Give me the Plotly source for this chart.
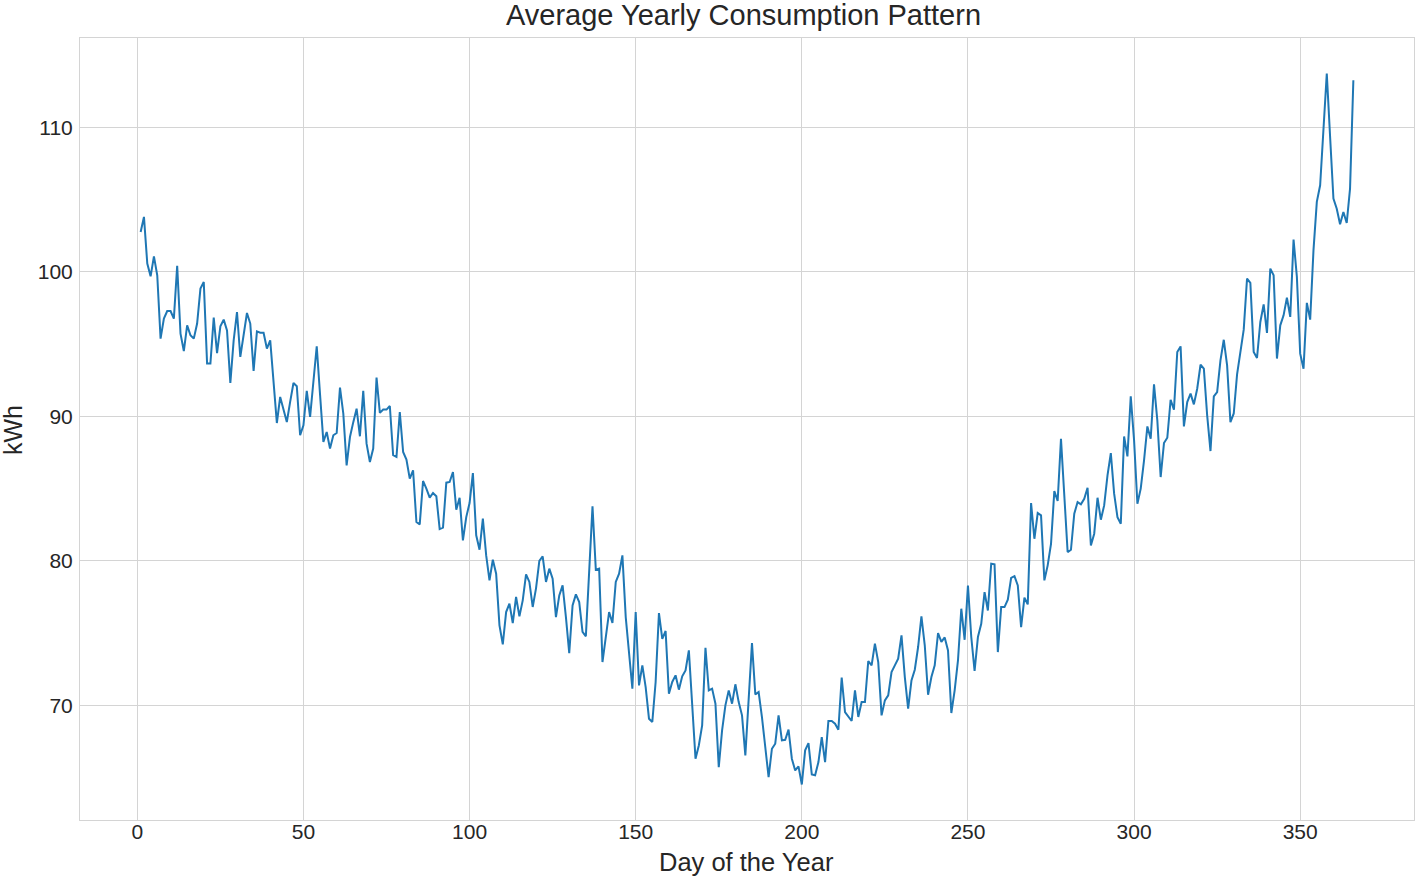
import plotly.graph_objects as go

days = list(range(1, 367))

kwh = [
    102.76, 103.80, 100.57, 99.69, 101.07, 99.76, 95.38, 96.76, 97.29, 97.29,
    96.76, 100.41, 95.72, 94.52, 96.30, 95.61, 95.38, 96.42, 98.84, 99.30,
    93.65, 93.65, 96.83, 94.38, 96.23, 96.69, 95.95, 92.31, 95.26, 97.22,
    94.11, 95.60, 97.15, 96.42, 93.14, 95.88, 95.79, 95.79, 94.69, 95.26,
    92.50, 89.54, 91.34, 90.50, 89.61, 91.00, 92.31, 92.08, 88.69, 89.38,
    91.76, 89.96, 92.40, 94.85, 91.50, 88.23, 88.92, 87.77, 88.69, 88.85,
    91.99, 90.19, 86.61, 88.57, 89.60, 90.53, 88.62, 91.76, 88.11, 86.84,
    87.77, 92.68, 90.24, 90.47, 90.47, 90.72, 87.31, 87.19, 90.30, 87.54,
    87.01, 85.69, 86.27, 82.69, 82.53, 85.53, 85.00, 84.38, 84.70, 84.47,
    82.20, 82.30, 85.41, 85.46, 86.15, 83.54, 84.37, 81.42, 83.03, 84.00,
    86.08, 81.77, 80.77, 82.92, 80.38, 78.65, 80.08, 79.11, 75.54, 74.22,
    76.46, 77.04, 75.70, 77.50, 76.16, 77.27, 79.07, 78.54, 76.81, 78.10,
    80.00, 80.31, 78.54, 79.46, 78.77, 76.11, 77.61, 78.30, 76.11, 73.62,
    76.92, 77.68, 77.15, 75.08, 74.78, 79.11, 83.77, 79.39, 79.46, 73.00,
    74.73, 76.46, 75.70, 78.54, 79.11, 80.38, 76.11, 73.58, 71.15, 76.46,
    71.38, 72.77, 71.27, 69.08, 68.85, 71.62, 76.39, 74.61, 75.15, 70.81,
    71.62, 72.08, 71.09, 72.01, 72.42, 73.81, 70.35, 66.31, 67.23, 68.62,
    73.99, 71.04, 71.16, 70.12, 65.73, 68.27, 70.00, 71.04, 70.12, 71.46,
    70.23, 69.31, 66.54, 70.35, 74.31, 70.76, 70.92, 69.19, 67.23, 65.04,
    67.00, 67.35, 69.31, 67.58, 67.62, 68.32, 66.31, 65.50, 65.78, 64.53,
    66.89, 67.39, 65.22, 65.16, 66.08, 67.81, 66.08, 68.92, 68.92, 68.73,
    68.32, 71.92, 69.54, 69.20, 68.92, 71.04, 69.20, 70.23, 70.23, 73.07,
    72.77, 74.27, 73.00, 69.31, 70.35, 70.70, 72.31, 72.77, 73.23, 74.85,
    71.96, 69.77, 71.73, 72.47, 74.04, 76.16, 74.16, 70.74, 71.96, 72.77,
    75.01, 74.40, 74.70, 73.80, 69.47, 71.04, 73.11, 76.69, 74.54, 78.30,
    74.73, 72.38, 74.73, 75.65, 77.84, 76.57, 79.80, 79.76, 73.69, 76.80,
    76.80, 77.31, 78.83, 78.95, 78.30, 75.42, 77.45, 76.99, 84.00, 81.53,
    83.31, 83.15, 78.65, 79.69, 81.18, 84.83, 84.14, 88.45, 84.07, 80.61,
    80.77, 83.26, 84.07, 83.91, 84.30, 85.06, 81.07, 81.88, 84.37, 82.85,
    83.84, 85.91, 87.46, 84.65, 83.03, 82.57, 88.61, 87.23, 91.38, 88.34,
    83.95, 85.00, 86.96, 89.30, 88.45, 92.21, 89.72, 85.80, 88.15, 88.52,
    91.15, 90.46, 94.45, 94.84, 89.30, 90.99, 91.57, 90.83, 91.91, 93.57,
    93.30, 90.07, 87.60, 91.38, 91.68, 93.87, 95.30, 93.53, 89.60, 90.20,
    92.90, 94.50, 96.00, 99.53, 99.23, 94.46, 94.04, 96.53, 97.75, 95.77,
    100.22, 99.76, 94.00, 96.30, 96.99, 98.22, 96.88, 102.23, 99.65, 94.34,
    93.30, 97.85, 96.69, 101.50, 104.84, 105.99, 110.03, 113.72, 109.33, 105.07,
    104.37, 103.29, 104.14, 103.38, 105.76, 113.26,
]

x_ticks = [0, 50, 100, 150, 200, 250, 300, 350]
y_ticks = [70, 80, 90, 100, 110]

title_text = "Average Yearly Consumption Pattern"
x_title = "Day of the Year"
y_title = "kWh"

FONT = "Liberation Sans, Arial, sans-serif"
TXT = "#262626"
GRID = "#d4d4d4"

W, H = 1416, 878
ML, MR, MT, MB = 80, 2, 38, 58
plot_w = W - ML - MR
plot_h = H - MT - MB

fig = go.Figure()
fig.add_trace(go.Scatter(
    x=days, y=kwh, mode="lines",
    line=dict(color="#1f77b4", width=2),
    showlegend=False,
))

fig.update_layout(
    width=W, height=H,
    margin=dict(l=ML, r=MR, t=MT, b=MB),
    paper_bgcolor="white", plot_bgcolor="white",
    font=dict(family=FONT, color=TXT, size=21),
    title=dict(text=title_text, x=743.5 / W, xanchor="center", xref="container",
               y=1 - 15 / H, yanchor="middle", yref="container",
               font=dict(size=29, family=FONT, color=TXT)),
)

fig.update_xaxes(
    range=[-17.25, 384.25], tickvals=x_ticks,
    showgrid=True, gridcolor=GRID, gridwidth=1,
    zeroline=False, showline=True, linecolor=GRID, linewidth=1, mirror=True,
    ticks="", ticklabelstandoff=-7,
    tickfont=dict(size=21, family=FONT, color=TXT),
    automargin=False,
)
fig.update_yaxes(
    range=[62.07, 116.18], tickvals=y_ticks,
    showgrid=True, gridcolor=GRID, gridwidth=1,
    zeroline=False, showline=True, linecolor=GRID, linewidth=1, mirror=True,
    ticks="", ticklabelstandoff=2,
    tickfont=dict(size=21, family=FONT, color=TXT),
    automargin=False,
)

# axis titles
fig.add_annotation(text=x_title, xref="paper", yref="paper",
                   x=(746 - ML) / plot_w, y=-(862 - (MT + plot_h)) / plot_h,
                   xanchor="center", yanchor="middle", showarrow=False,
                   font=dict(size=25.5, family=FONT, color=TXT))
fig.add_annotation(text=y_title, xref="paper", yref="paper",
                   x=-(ML - 13) / plot_w, y=((MT + plot_h) - 430) / plot_h,
                   xanchor="center", yanchor="middle", showarrow=False, textangle=-90,
                   font=dict(size=25, family=FONT, color=TXT))

fig.write_html("out.html", config={"displayModeBar": False},
               post_script="document.body.style.margin='0';document.body.style.overflow='hidden';")
